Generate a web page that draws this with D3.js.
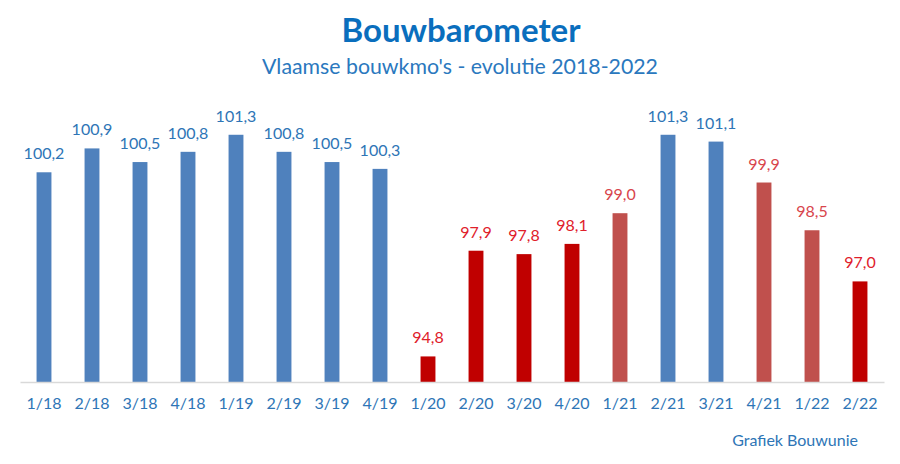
<!DOCTYPE html>
<html>
<head>
<meta charset="utf-8">
<script src="https://cdn.jsdelivr.net/npm/d3@7"></script>
<style>
  body { margin: 0; background: #fff; }
  text { font-family: Lato, "Open Sans", sans-serif; }
</style>
</head>
<body>
<div id="chart"></div>
<script>
// chart data
var quarters = ["1/18", "2/18", "3/18", "4/18", "1/19", "2/19", "3/19", "4/19",
    "1/20", "2/20", "3/20", "4/20", "1/21", "2/21", "3/21", "4/21", "1/22", "2/22"];
var values = [100.2, 100.9, 100.5, 100.8, 101.3, 100.8, 100.5, 100.3,
    94.8, 97.9, 97.8, 98.1, 99.0, 101.3, 101.1, 99.9, 98.5, 97.0];
// bar kind: "up" blue, "down" dark red, "mid" light red
var kinds = ["up", "up", "up", "up", "up", "up", "up", "up",
    "down", "down", "down", "down", "mid", "up", "up", "mid", "mid", "down"];

var barColor = { up: "#4f81bd", down: "#c00000", mid: "#c0504d" };
var labelColor = { up: "#2e75b6", down: "#e0202a", mid: "#d8454c" };

var svgWidth = 900;
var svgHeight = 464;

var margin = { top: 0, right: 16, left: 20, bottom: 82 };

var svg = d3.select("#chart").append("svg")
    .attr("width", svgWidth)
    .attr("height", svgHeight);

var data = quarters.map(function (q, i) {
    return { q: q, v: values[i], k: kinds[i] };
});

// x band scale
var xScale = d3.scaleBand()
    .domain(quarters)
    .range([margin.left, svgWidth - margin.right])
    .paddingInner(0.69)
    .paddingOuter(0.345);

// y linear scale, bars start at 94.05
var yScale = d3.scaleLinear()
    .domain([94.05, 102])
    .range([svgHeight - margin.bottom, svgHeight - margin.bottom - 7.95 * 34.1]);

var fmt = function (v) { return d3.format(".1f")(v).replace(".", ","); };

// titles
svg.append("text")
    .attr("x", 461).attr("y", 42)
    .attr("text-anchor", "middle")
    .attr("font-size", 33).attr("font-weight", "bold")
    .attr("fill", "#0a6ebd")
    .text("Bouwbarometer");

svg.append("text")
    .attr("x", 460).attr("y", 74)
    .attr("text-anchor", "middle")
    .attr("font-size", 21.3)
    .attr("fill", "#2a78be")
    .text("Vlaamse bouwkmo's - evolutie 2018-2022");

// bars
svg.append("g").selectAll("rect")
    .data(data)
    .enter().append("rect")
    .attr("x", d => xScale(d.q))
    .attr("y", d => yScale(d.v))
    .attr("width", xScale.bandwidth())
    .attr("height", d => yScale(94.05) - yScale(d.v))
    .attr("fill", d => barColor[d.k]);

// value labels
svg.append("g").selectAll("text")
    .data(data)
    .enter().append("text")
    .attr("x", d => xScale(d.q) + xScale.bandwidth() / 2)
    .attr("y", d => yScale(d.v) - 13)
    .attr("text-anchor", "middle")
    .attr("font-size", 16)
    .attr("fill", d => labelColor[d.k])
    .text(d => fmt(d.v));

// x axis
var xAxis = svg.append("g")
    .attr("transform", `translate(0, ${yScale(94.05)})`)
    .call(d3.axisBottom(xScale).tickSize(0).tickPadding(16));

xAxis.select(".domain").attr("stroke", "#d9d9d9").attr("stroke-width", 1.5);
xAxis.selectAll("text")
    .attr("font-size", 16)
    .attr("fill", "#2e75b6")
    .style("font-family", "Lato, 'Open Sans', sans-serif");

// source note
svg.append("text")
    .attr("x", 858).attr("y", 446)
    .attr("text-anchor", "end")
    .attr("font-size", 16)
    .attr("fill", "#2e75b6")
    .text("Grafiek Bouwunie");
</script>
</body>
</html>
